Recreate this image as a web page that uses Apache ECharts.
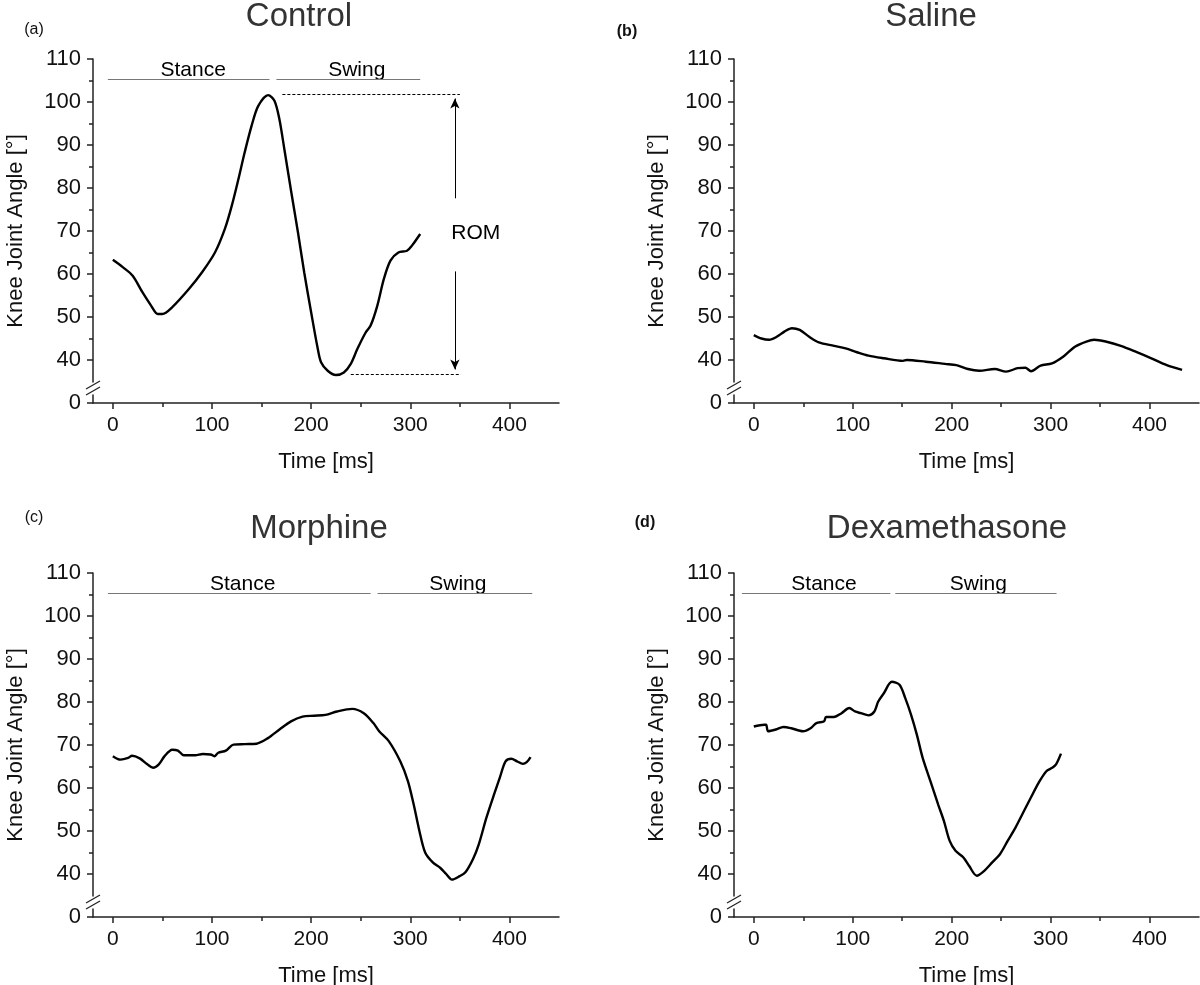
<!DOCTYPE html>
<html>
<head>
<meta charset="UTF-8">
<title>Knee joint angle</title>
<script src="https://cdn.jsdelivr.net/npm/echarts@6/dist/echarts.min.js"></script>
<style>
  html, body { margin: 0; padding: 0; background: #fff; }
  #main { width: 1200px; height: 985px; }
</style>
</head>
<body>
<div id="main"></div>
<script type="text/javascript">
// time [ms] / knee angle [deg]
var controlT = [0, 10, 20, 30, 38.7, 45.3, 50, 60, 76.7, 90, 103, 113, 120, 126.7, 133, 140, 146.7, 156.7, 163, 168,
    173, 180, 186.7, 193, 200, 206.7, 210, 216.7, 225, 233, 240, 246.7, 255, 260, 266.7, 273.3, 280, 288, 296.7, 301.7, 310];
var controlA = [63.3, 61.6, 59.6, 55.7, 52.6, 50.7, 50.7, 52.3, 56.5, 60.4, 65, 70.5, 75.9, 82.1, 88.3, 94.5, 99.1, 101.6, 100.3, 96,
    89, 79, 69.7, 60.4, 51.1, 42.6, 39.5, 37.5, 36.5, 37.1, 39.1, 42.6, 46.4, 48, 52.6, 58.8, 63.1, 65, 65.4, 66.6, 69.3];

var salineT = [0, 7.7, 15.5, 23.2, 30.9, 38.6, 46.4, 56, 65.7, 81.2, 92.8, 104.3, 115.9, 131.4, 150.7, 154.6, 173.9, 193.2, 204.8, 216.4,
    228, 243.5, 255.1, 266.7, 274.4, 280.2, 289.9, 301.4, 313, 324.6, 336.2, 344, 355.6, 371, 386.5, 401.9, 417.4, 432.9];
var salineA = [45.8, 45.0, 44.7, 45.4, 46.6, 47.4, 47.0, 45.4, 44.1, 43.3, 42.7, 41.8, 41.0, 40.4, 39.8, 40.0, 39.6, 39.1, 38.8, 37.9,
    37.5, 37.9, 37.3, 38.1, 38.2, 37.4, 38.7, 39.2, 40.8, 43.1, 44.3, 44.7, 44.3, 43.3, 41.9, 40.4, 38.8, 37.7];

var morphineT = [0, 7.7, 15.5, 19.3, 27.1, 34.8, 40.6, 46.4, 52.2, 59.9, 65.7, 71.5, 83.1, 90.8, 98.6, 102.4, 106.3, 114, 121.7, 133.3,
    144.9, 156.5, 168.1, 179.7, 191.3, 202.9, 214.5, 226.1, 241.5, 253.1, 262.8, 268.6, 278.3, 289.9, 297.6, 303.4, 309.2, 315, 322.7, 330.4,
    336.2, 342, 349.8, 355.6, 363.3, 369.1, 376.8, 384.5, 390.3, 396.1, 401.9, 407.7, 413.5, 417.4, 421.3];
var morphineA = [67.4, 66.6, 67.0, 67.5, 66.9, 65.5, 64.7, 65.5, 67.4, 68.9, 68.7, 67.6, 67.6, 67.9, 67.8, 67.4, 68.2, 68.7, 70.1, 70.2,
    70.3, 71.6, 73.6, 75.5, 76.6, 76.8, 77.0, 77.8, 78.4, 77.4, 75.1, 73.2, 70.9, 66.2, 61.6, 56.2, 50.0, 45.0, 42.7, 41.4,
    40.0, 38.7, 39.5, 40.4, 43.5, 46.9, 53.1, 58.5, 62.4, 66.2, 66.8, 66.2, 65.6, 66.0, 67.2];

var dexaT = [0, 10.5, 12.5, 14.5, 22.3, 30, 37.9, 49.6, 57.4, 63.3, 71.1, 73, 81, 88.7, 96.5, 102.3, 108.2, 116, 121.9, 125.8,
    131.6, 139.5, 147.3, 153.1, 159, 164.8, 170.7, 178.5, 186.3, 192.2, 198, 203.9, 211.7, 217.6, 225.4, 233.2, 241, 248.8, 256.6, 264.5,
    272.3, 280.1, 287.9, 295.7, 301.6, 305.5, 310.5];
var dexaA = [74.3, 74.7, 74.7, 73.2, 73.6, 74.2, 73.9, 73.2, 73.9, 75.1, 75.5, 76.5, 76.5, 77.4, 78.6, 77.8, 77.4, 76.9, 77.8, 80.1,
    82.1, 84.7, 84.0, 80.9, 77.0, 72.4, 67.0, 61.6, 56.2, 52.3, 47.7, 45.4, 43.9, 41.9, 39.6, 40.8, 42.7, 44.6, 47.7, 50.8,
    54.3, 57.8, 61.2, 63.9, 64.7, 65.5, 68.0];

// gait phases: [from, to, label x, label]
var controlPhases = [[-5, 158, 81, 'Stance'], [165, 310, 246, 'Swing']];
var morphinePhases = [[-5, 260, 131, 'Stance'], [267, 423, 348, 'Swing']];
var dexaPhases = [[-12, 138, 71, 'Stance'], [143, 306, 227, 'Swing']];
var phaseLineY = 105.3;
var phaseTextY = 107.4;

// range of motion marker in the control panel
var romMax = 101.9, romMin = 36.7;
var romTopDash = [171, 350];
var romBottomDash = [240, 351];
var romArrowX = 345;
var romArrowEnds = [77.6, 60.6];
var romText = [366, 69.6];

var xTicks = [0, 100, 200, 300, 400];
var xMinorTicks = [50, 150, 250, 350];
var yTicks = [0, 40, 50, 60, 70, 80, 90, 100, 110];
var yMinorTicks = [45, 55, 65, 75, 85, 95, 105];
var yBreak = { start: 2, end: 35, gap: 3 };

var FONT = '"Liberation Sans", Arial, sans-serif';
var AXIS = '#222';

var panels = [
    { title: 'Control', tag: '(a)', bold: false, grid: { left: 93, top: 59, width: 466, height: 344 }, t: controlT, a: controlA, phases: controlPhases, titleXY: [299, 17], tagXY: [34, 30] },
    { title: 'Saline', tag: '(b)', bold: true, grid: { left: 734, top: 59, width: 465, height: 344 }, t: salineT, a: salineA, phases: [], titleXY: [931, 17], tagXY: [627, 32] },
    { title: 'Morphine', tag: '(c)', bold: false, grid: { left: 93, top: 573, width: 466, height: 344 }, t: morphineT, a: morphineA, phases: morphinePhases, titleXY: [319, 529], tagXY: [34, 518] },
    { title: 'Dexamethasone', tag: '(d)', bold: true, grid: { left: 734, top: 573, width: 465, height: 344 }, t: dexaT, a: dexaA, phases: dexaPhases, titleXY: [947, 529], tagXY: [645, 523] }
];

function zip(xs, ys) {
    return xs.map(function (x, k) { return [x, ys[k]]; });
}

var grids = [], xAxes = [], yAxes = [], series = [];

panels.forEach(function (p, i) {
    grids.push({ left: p.grid.left, top: p.grid.top, width: p.grid.width, height: p.grid.height, outerBoundsMode: 'none' });

    xAxes.push({
        gridIndex: i, type: 'value', position: 'bottom', min: -20, max: 450,
        name: 'Time [ms]', nameLocation: 'middle', nameGap: 48,
        nameTextStyle: { fontSize: 22, color: '#111', fontFamily: FONT },
        axisLine: { show: true, onZero: false, lineStyle: { color: AXIS, width: 1.5 } },
        axisTick: { show: true, inside: false, length: 6, customValues: xTicks, lineStyle: { color: AXIS, width: 1.5 } },
        axisLabel: { show: true, customValues: xTicks, margin: 12, fontSize: 21, color: '#111', fontFamily: FONT },
        splitLine: { show: false }
    });
    xAxes.push({
        gridIndex: i, type: 'value', position: 'bottom', min: -20, max: 450,
        axisLine: { show: false, onZero: false },
        axisTick: { show: true, inside: false, length: 4, customValues: xMinorTicks, lineStyle: { color: AXIS, width: 1.5 } },
        axisLabel: { show: false },
        splitLine: { show: false }
    });

    yAxes.push({
        gridIndex: i, type: 'value', position: 'left', min: 0, max: 110,
        breaks: [{ start: yBreak.start, end: yBreak.end, gap: yBreak.gap }],
        breakArea: { show: false },
        name: 'Knee Joint Angle [°]', nameLocation: 'middle', nameGap: 66,
        nameTextStyle: { fontSize: 22, color: '#111', fontFamily: FONT },
        axisLine: { show: true, onZero: false, lineStyle: { color: AXIS, width: 1.5 } },
        axisTick: { show: true, inside: false, length: 6, customValues: yTicks, lineStyle: { color: AXIS, width: 1.5 } },
        axisLabel: { show: true, customValues: yTicks, margin: 12, fontSize: 22, color: '#111', fontFamily: FONT },
        splitLine: { show: false }
    });
    yAxes.push({
        gridIndex: i, type: 'value', position: 'left', min: 0, max: 110,
        breaks: [{ start: yBreak.start, end: yBreak.end, gap: yBreak.gap }],
        breakArea: { show: false },
        axisLine: { show: false, onZero: false },
        axisTick: { show: true, inside: false, length: 4, customValues: yMinorTicks, lineStyle: { color: AXIS, width: 1.5 } },
        axisLabel: { show: false },
        splitLine: { show: false }
    });

    var xi = 2 * i, yi = 2 * i;

    series.push({
        type: 'line', xAxisIndex: xi, yAxisIndex: yi, silent: true,
        data: zip(p.t, p.a), showSymbol: false, smooth: 0.3,
        lineStyle: { color: '#000', width: 2.4 }
    });

    if (p.phases.length) {
        series.push({
            type: 'line', xAxisIndex: xi, yAxisIndex: yi, silent: true, data: [],
            markLine: {
                silent: true, symbol: ['none', 'none'], label: { show: false },
                lineStyle: { color: '#777', width: 1.2, type: 'solid' },
                data: p.phases.map(function (ph) { return [{ coord: [ph[0], phaseLineY] }, { coord: [ph[1], phaseLineY] }]; })
            }
        });
    }

    var texts = p.phases.map(function (ph) { return [ph[2], phaseTextY, ph[3]]; });
    if (i === 0) texts.push([romText[0], romText[1], 'ROM']);
    if (texts.length) {
        series.push({
            type: 'scatter', xAxisIndex: xi, yAxisIndex: yi, silent: true, symbolSize: 0,
            itemStyle: { opacity: 1 },
            data: texts,
            label: {
                show: true, position: [0, 0], align: 'center', verticalAlign: 'middle', opacity: 1,
                formatter: function (q) { return q.value[2]; },
                fontSize: 21, color: '#000', fontFamily: FONT
            }
        });
    }

    if (i === 0) {
        series.push({
            type: 'line', xAxisIndex: xi, yAxisIndex: yi, silent: true, data: [],
            markLine: {
                silent: true, symbol: ['none', 'none'], label: { show: false },
                lineStyle: { color: '#000', width: 1, type: [3, 2] },
                data: [
                    [{ coord: [romTopDash[0], romMax] }, { coord: [romTopDash[1], romMax] }],
                    [{ coord: [romBottomDash[0], romMin] }, { coord: [romBottomDash[1], romMin] }]
                ]
            }
        });
        series.push({
            type: 'line', xAxisIndex: xi, yAxisIndex: yi, silent: true, data: [],
            markLine: {
                silent: true, symbol: ['none', 'arrow'], symbolSize: [7, 10], label: { show: false },
                lineStyle: { color: '#000', width: 1, type: 'solid' },
                data: [
                    [{ coord: [romArrowX, romArrowEnds[0]] }, { coord: [romArrowX, romMax - 1.1] }],
                    [{ coord: [romArrowX, romArrowEnds[1]] }, { coord: [romArrowX, romMin + 1.1] }]
                ]
            }
        });
    }
});

var chart = echarts.init(document.getElementById('main'));
chart.setOption({
    animation: false,
    backgroundColor: '#fff',
    grid: grids,
    xAxis: xAxes,
    yAxis: yAxes,
    series: series
});

// titles, panel tags and the // marks on the broken y axis
var gfx = [];
panels.forEach(function (p, i) {
    gfx.push({
        type: 'text', x: p.titleXY[0], y: p.titleXY[1], z: 10,
        style: { text: p.title, font: '33px ' + FONT, fill: '#333', align: 'center', verticalAlign: 'middle', textAlign: 'center', textVerticalAlign: 'middle' }
    });
    gfx.push({
        type: 'text', x: p.tagXY[0], y: p.tagXY[1], z: 10,
        style: { text: p.tag, font: (p.bold ? 'bold ' : '') + '16px ' + FONT, fill: '#111', align: 'center', verticalAlign: 'middle', textAlign: 'center', textVerticalAlign: 'middle' }
    });
    var ax = chart.convertToPixel({ xAxisIndex: 2 * i }, -20);
    var y1 = chart.convertToPixel({ yAxisIndex: 2 * i }, yBreak.start);
    var y2 = chart.convertToPixel({ yAxisIndex: 2 * i }, yBreak.end);
    var ym = (y1 + y2) / 2;
    [-3, 3].forEach(function (d) {
        gfx.push({
            type: 'line', z: 10,
            shape: { x1: ax - 7, y1: ym + d + 4, x2: ax + 7, y2: ym + d - 4 },
            style: { stroke: AXIS, lineWidth: 1.3 }
        });
    });
});
chart.setOption({ graphic: gfx });
</script>
</body>
</html>
